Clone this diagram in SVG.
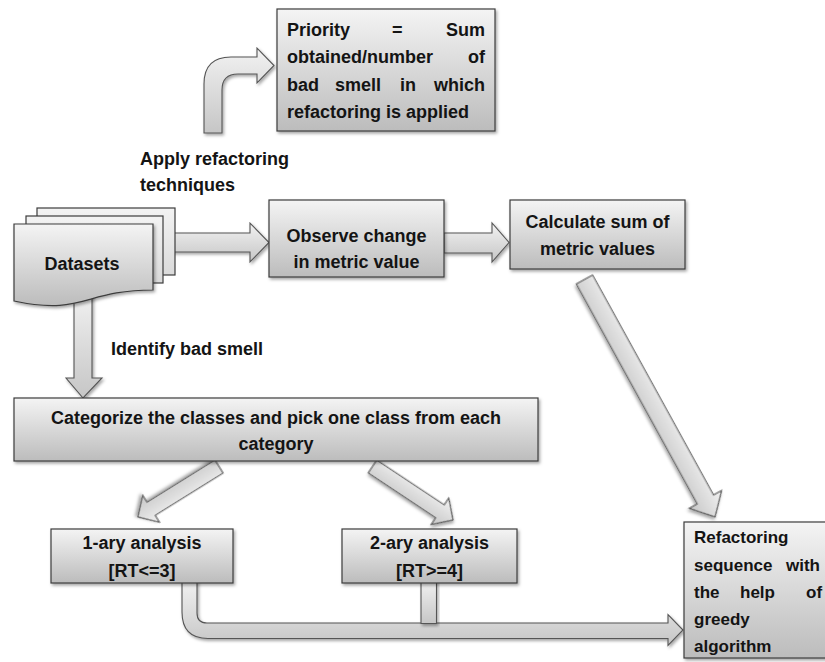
<svg xmlns="http://www.w3.org/2000/svg" width="825" height="662" viewBox="0 0 825 662">
<defs>
  <linearGradient id="gBox" x1="0" y1="0" x2="0" y2="1">
    <stop offset="0" stop-color="#f4f4f4"/>
    <stop offset="1" stop-color="#bcbcbc"/>
  </linearGradient>
  <linearGradient id="gArrow" x1="0" y1="0" x2="0" y2="1">
    <stop offset="0" stop-color="#f2f2f2"/>
    <stop offset="1" stop-color="#c6c6c6"/>
  </linearGradient>
  <linearGradient id="gPage" x1="0" y1="0" x2="0" y2="1">
    <stop offset="0" stop-color="#f3f3f3"/>
    <stop offset="1" stop-color="#dadada"/>
  </linearGradient>
  <filter id="shadow" x="-10%" y="-10%" width="130%" height="130%">
    <feDropShadow dx="1.5" dy="2" stdDeviation="1.5" flood-color="#000" flood-opacity="0.35"/>
  </filter>
</defs>
<style>
  .box { fill: url(#gBox); stroke: #3c3c3c; stroke-width: 1.2; filter: url(#shadow); }
  .page { fill: url(#gPage); stroke: #3c3c3c; stroke-width: 1.2; }
  .arrow { fill: url(#gArrow); stroke: #555555; stroke-width: 1.1; stroke-linejoin: miter; filter: url(#shadow); }
  .t { font-family: "Liberation Sans", Arial, sans-serif; font-weight: bold; font-size: 18px; fill: #141414; }
  .s { font-size: 17px; }
  .c { text-anchor: middle; }
</style>

<g id="connectors">
  <!-- bent arrow up to Priority -->
  <path class="arrow" d="M204,133 V84 Q204,57 231,57 H257 V48 L274,65.5 L257,83 V74 H238 Q222,74 222,90 V133 Z"/>
  <!-- Datasets -> Observe -->
  <path class="arrow" d="M160,233 H250 V223 L269,242.5 L250,262 V252 H160 Z"/>
  <!-- Observe -> Calculate -->
  <path class="arrow" d="M444,233 H492 V223 L509,242.5 L492,262 V253 H444 Z"/>
  <!-- Datasets -> Categorize -->
  <path class="arrow" d="M74,290 V378 H66 L83,398 L102,378 H92 V290 Z"/>
  <!-- Calculate -> Refactoring (diagonal) -->
  <path class="arrow" transform="translate(584.5,279.5) rotate(61.2)" d="M0,-9.2 H251 V-18.4 L271,0 L251,18.4 V9.2 H0 Z"/>
  <!-- Categorize -> 1-ary -->
  <path class="arrow" transform="translate(219,466.5) rotate(148.1)" d="M0,-7.7 H80 V-16 L95.5,0 L80,16 V7.7 H0 Z"/>
  <!-- Categorize -> 2-ary -->
  <path class="arrow" transform="translate(372.5,466.5) rotate(33.6)" d="M0,-7.7 H81 V-16 L96.7,0 L81,16 V7.7 H0 Z"/>
  <!-- 1-ary -> Refactoring (bent) -->
  <path class="arrow" d="M182,580 V612 Q182,638.5 208,638.5 H668 V645.5 L683,630 L668,614.5 V623 H207 Q197,623 197,613 V580 Z"/>
  <!-- 2-ary stem joining -->
  <path class="arrow" d="M421,580 V623.5 H436.5 V580 Z"/>
</g>

<g id="priority">
  <rect class="box" x="277" y="9" width="218" height="122"/>
  <text class="t" y="36"><tspan x="287">Priority</tspan><tspan x="392">=</tspan><tspan x="485" text-anchor="end">Sum</tspan></text>
  <text class="t" y="63"><tspan x="287">obtained/number</tspan><tspan x="485" text-anchor="end">of</tspan></text>
  <text class="t" y="91"><tspan x="287">bad</tspan><tspan x="335">smell</tspan><tspan x="400">in</tspan><tspan x="485" text-anchor="end">which</tspan></text>
  <text class="t" y="118" x="287">refactoring is applied</text>
</g>

<g id="label-apply">
  <text class="t" x="140" y="165">Apply refactoring</text>
  <text class="t" x="140" y="191">techniques</text>
</g>

<g id="datasets">
  <rect class="page" x="37" y="208" width="138" height="67"/>
  <rect class="page" x="26" y="216" width="137" height="67"/>
  <path class="box" d="M14,224 H153 V290 C83.5,290 83.5,316 14,301 Z"/>
  <text class="t c" x="82" y="270">Datasets</text>
</g>

<g id="observe">
  <rect class="box" x="269" y="200" width="175" height="77"/>
  <text class="t c" x="356.5" y="242">Observe change</text>
  <text class="t c" x="356.5" y="268">in metric value</text>
</g>

<g id="calculate">
  <rect class="box" x="510" y="200" width="175" height="69"/>
  <text class="t c" x="597.5" y="228">Calculate sum of</text>
  <text class="t c" x="597.5" y="255">metric values</text>
</g>

<g id="label-identify">
  <text class="t" x="111" y="355">Identify bad smell</text>
</g>

<g id="categorize">
  <rect class="box" x="14" y="398" width="524" height="63"/>
  <text class="t c" x="276" y="424">Categorize the classes and pick one class from each</text>
  <text class="t c" x="276" y="450">category</text>
</g>

<g id="one-ary">
  <rect class="box" x="51" y="529" width="182" height="54"/>
  <text class="t c" x="142" y="549">1-ary analysis</text>
  <text class="t c" x="142" y="577">[RT&lt;=3]</text>
</g>

<g id="two-ary">
  <rect class="box" x="342" y="529" width="175" height="54"/>
  <text class="t c" x="429.5" y="549">2-ary analysis</text>
  <text class="t c" x="429.5" y="577">[RT&gt;=4]</text>
</g>

<g id="refactoring">
  <rect class="box" x="684" y="522" width="150" height="136"/>
  <text class="t s" x="694" y="543">Refactoring</text>
  <text class="t s" y="571"><tspan x="694">sequence</tspan><tspan x="786">with</tspan></text>
  <text class="t s" y="598"><tspan x="694">the</tspan><tspan x="740">help</tspan><tspan x="806">of</tspan></text>
  <text class="t s" x="694" y="625">greedy</text>
  <text class="t s" x="694" y="652">algorithm</text>
</g>
</svg>
